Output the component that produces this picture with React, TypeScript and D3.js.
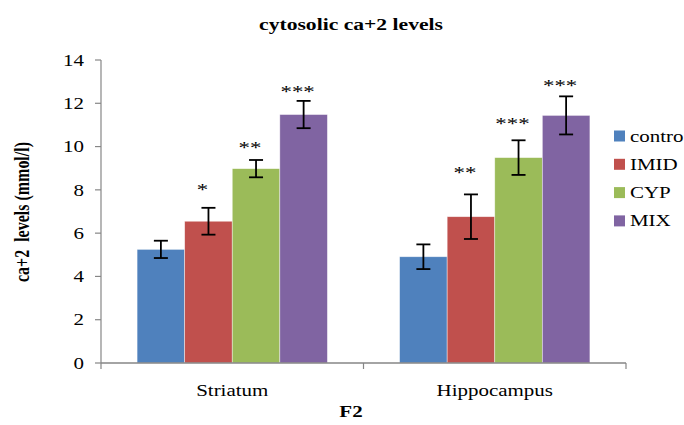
import React from "react";
import * as d3 from "d3";

const categories = ["Striatum", "Hippocampus"];
const seriesNames = ["contro", "IMID", "CYP", "MIX"];
const seriesColors = ["#4F81BD", "#C0504D", "#9BBB59", "#8064A2"];
const striatumValues = [5.25, 6.55, 8.98, 11.48];
const striatumErrors = [0.4, 0.62, 0.4, 0.63];
const striatumStars = ["", "*", "**", "***"];
const striatumStarLevels = [0, 8.15, 10.07, 12.66];
const hippocampusValues = [4.91, 6.76, 9.49, 11.44];
const hippocampusErrors = [0.57, 1.03, 0.8, 0.88];
const hippocampusStars = ["", "**", "***", "***"];
const hippocampusStarLevels = [0, 8.92, 11.18, 12.94];
const yTicks = [0, 2, 4, 6, 8, 10, 12, 14];

const groupValues = [striatumValues, hippocampusValues];
const groupErrors = [striatumErrors, hippocampusErrors];
const groupStars = [striatumStars, hippocampusStars];
const groupStarLevels = [striatumStarLevels, hippocampusStarLevels];

const W = 684;
const H = 425;
const left = 101;
const right = 626;
const top = 60;
const bottom = 363;
const FONT = "Liberation Serif";
const AXIS = "#868686";
const SX = 1.31;

function T(props: {
  x: number;
  y: number;
  children: React.ReactNode;
  size?: number;
  bold?: boolean;
  anchor?: string;
  rotate?: boolean;
  spacing?: number;
}) {
  const { x, y, children, size = 16, bold = false, anchor = "start", rotate = false, spacing = 0 } = props;
  return (
    <text
      transform={`translate(${x},${y}) scale(${SX},1)${rotate ? " rotate(-90)" : ""}`}
      textAnchor={anchor}
      fontSize={size}
      fontWeight={bold ? "bold" : "normal"}
      letterSpacing={spacing}
      style={{ fontFamily: FONT, whiteSpace: "pre" }}
    >
      {children}
    </text>
  );
}

export default function App() {
  const y = d3.scaleLinear().domain([0, 14]).range([bottom, top]);
  const x0 = d3.scaleBand().domain(categories).range([left, right]).paddingInner(0.275).paddingOuter(0.1375);
  const x1 = d3.scaleBand().domain(seriesNames).range([0, x0.bandwidth()]);
  const capW = 14;

  return (
    <svg width={W} height={H} style={{ position: "absolute", left: 0, top: 0, background: "#fff" }}>
      <T x={351} y={30} size={16.5} bold anchor="middle">cytosolic ca+2 levels</T>

      {/* y axis */}
      <line x1={left} x2={left} y1={top} y2={bottom} stroke={AXIS} strokeWidth={1.2} />
      {yTicks.map((t) => (
        <g key={t}>
          <line x1={left - 6} x2={left} y1={y(t)} y2={y(t)} stroke={AXIS} strokeWidth={1.2} />
          <T x={84} y={y(t) + 5.7} anchor="end">{t}</T>
        </g>
      ))}
      <T x={29} y={212} size={16} bold anchor="middle" rotate>{"ca+2  levels (mmol/l)"}</T>

      {/* bars */}
      {categories.map((c, gi) => (
        <g key={c} transform={`translate(${x0(c)},0)`}>
          {seriesNames.map((s, si) => {
            const v = groupValues[gi][si];
            const e = groupErrors[gi][si];
            const bx = x1(s)!;
            const cx = bx + x1.bandwidth() / 2;
            return (
              <g key={s}>
                <rect x={bx} y={y(v)} width={x1.bandwidth()} height={bottom - y(v)} fill={seriesColors[si]} stroke="#ffffff" strokeOpacity={0.6} strokeWidth={0.7} />
                <line x1={cx} x2={cx} y1={y(v + e)} y2={y(v - e)} stroke="#000" strokeWidth={1.8} />
                <line x1={cx - capW / 2} x2={cx + capW / 2} y1={y(v + e)} y2={y(v + e)} stroke="#000" strokeWidth={1.8} />
                <line x1={cx - capW / 2} x2={cx + capW / 2} y1={y(v - e)} y2={y(v - e)} stroke="#000" strokeWidth={1.8} />
                {groupStars[gi][si] && (
                  <T x={cx - 6} y={y(groupStarLevels[gi][si]) + 8.2} size={17.5} spacing={0} anchor="middle">{groupStars[gi][si]}</T>
                )}
              </g>
            );
          })}
        </g>
      ))}

      {/* x axis */}
      <line x1={left} x2={right} y1={bottom} y2={bottom} stroke={AXIS} strokeWidth={1.4} />
      {[left, (left + right) / 2, right].map((tx, i) => (
        <line key={i} x1={tx} x2={tx} y1={bottom} y2={bottom + 6} stroke={AXIS} strokeWidth={1.2} />
      ))}
      {categories.map((c) => (
        <T key={c} x={x0(c)! + x0.bandwidth() / 2} y={396} anchor="middle">{c}</T>
      ))}
      <T x={351} y={417} bold anchor="middle">F2</T>

      {/* legend */}
      {seriesNames.map((s, i) => (
        <g key={s}>
          <rect x={614} y={130.5 + i * 28.3} width={11} height={11} fill={seriesColors[i]} />
          <T x={630} y={141.5 + i * 28.3}>{s}</T>
        </g>
      ))}
    </svg>
  );
}
